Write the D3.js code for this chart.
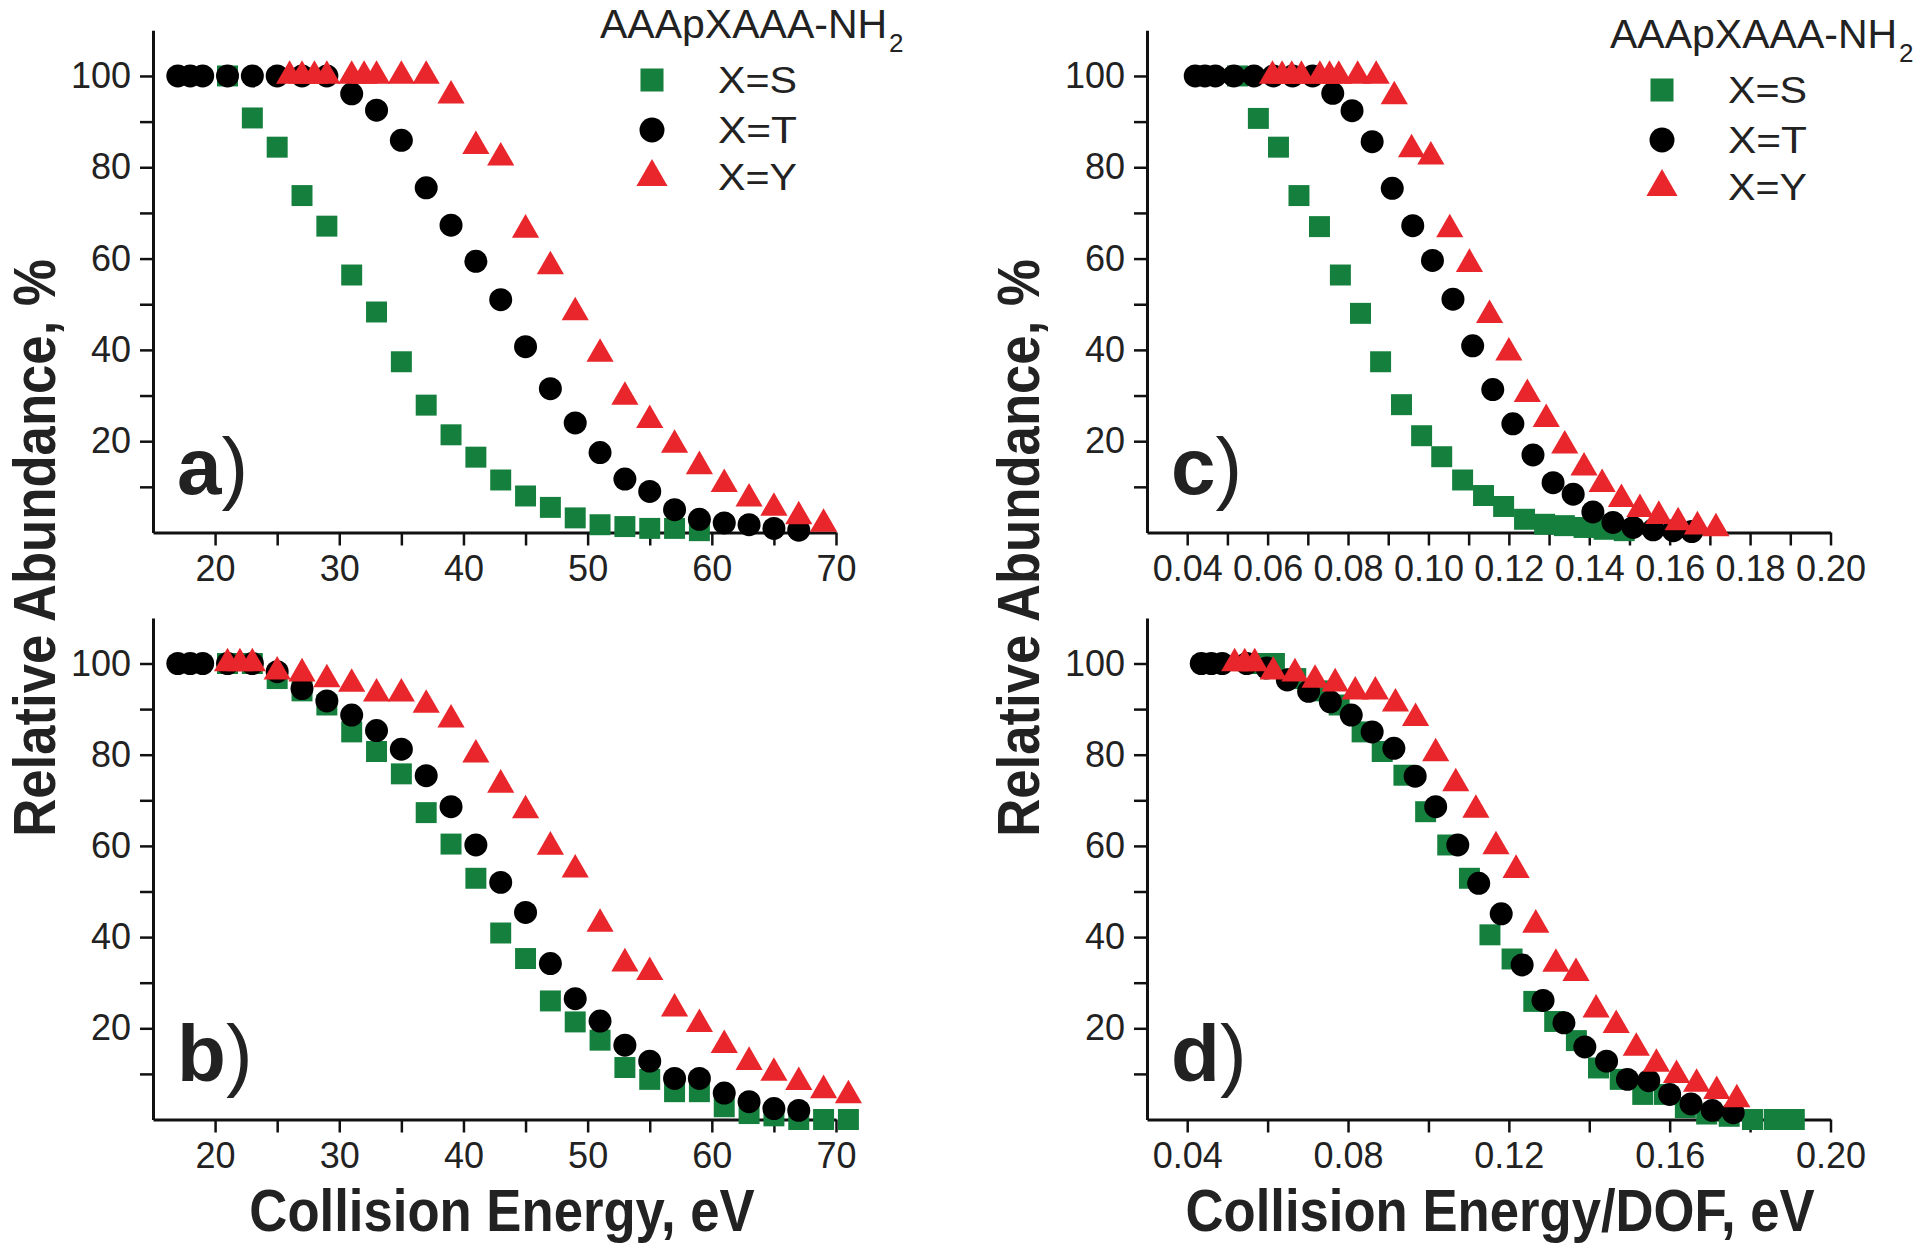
<!DOCTYPE html>
<html><head><meta charset="utf-8">
<script src="https://cdn.jsdelivr.net/npm/d3@7"></script>
<style>
body{margin:0;background:#fff}
svg{display:block}
text{font-family:"Liberation Sans",Arial,Helvetica,sans-serif}
</style>
</head><body>
<svg id="chart" width="1920" height="1246"></svg>
<script>
// ---------- DATA ----------
const seriesNames = ["X=S", "X=T", "X=Y"];
const legendTitle = "AAApXAAA-NH";
const legendSub = "2";
const panelLabels = ["a", "b", "c", "d"];
const xTitleEnergy = "Collision Energy, eV";
const xTitleDof = "Collision Energy/DOF, eV";
const yTitle = "Relative Abundance, %";

const energyTicks = [20, 25, 30, 35, 40, 45, 50, 55, 60, 65, 70];
const energyLabels = [20, 30, 40, 50, 60, 70];
const dofTicksC = [0.04, 0.05, 0.06, 0.07, 0.08, 0.09, 0.10, 0.11, 0.12, 0.13, 0.14, 0.15, 0.16, 0.17, 0.18, 0.19, 0.20];
const dofLabelsC = ["0.04", "0.06", "0.08", "0.10", "0.12", "0.14", "0.16", "0.18", "0.20"];
const dofTicksD = [0.04, 0.06, 0.08, 0.10, 0.12, 0.14, 0.16, 0.18, 0.20];
const dofLabelsD = ["0.04", "0.08", "0.12", "0.16", "0.20"];
const yTicks = [10, 20, 30, 40, 50, 60, 70, 80, 90, 100];
const yLabels = [20, 40, 60, 80, 100];

// panel a
const aSx = [21, 23, 25, 27, 29, 31, 33, 35, 37, 39, 41, 43, 45, 47, 49, 51, 53, 55, 57, 59];
const aSy = [100, 90.8, 84.4, 73.8, 67.1, 56.4, 48.3, 37.4, 27.9, 21.4, 16.5, 11.5, 8.0, 5.5, 3.2, 1.7, 1.3, 0.9, 0.9, 0.4];
const aTx = [17, 18, 19, 21, 23, 25, 27, 29, 31, 33, 35, 37, 39, 41, 43, 45, 47, 49, 51, 53, 55, 57, 59, 61, 63, 65, 67];
const aTy = [100, 100, 100, 100, 100, 100, 100, 100, 96.1, 92.5, 85.9, 75.5, 67.3, 59.4, 51.0, 40.7, 31.5, 24.0, 17.5, 11.7, 9.0, 5.0, 2.9, 2.1, 1.7, 0.9, 0.5];
const aYx = [26, 27, 28, 29, 31, 32, 33, 35, 37, 39, 41, 43, 45, 47, 49, 51, 53, 55, 57, 59, 61, 63, 65, 67, 69];
const aYy = [100, 100, 100, 100, 100, 100, 100, 100, 100, 95.7, 84.6, 82.1, 66.3, 58.3, 48.2, 39.1, 29.7, 24.6, 19.2, 14.5, 10.6, 7.4, 5.4, 3.5, 1.9];

// panel b
const bSx = [21, 23, 25, 27, 29, 31, 33, 35, 37, 39, 41, 43, 45, 47, 49, 51, 53, 55, 57, 59, 61, 63, 65, 67, 69, 71];
const bSy = [100, 100, 96.7, 94.0, 90.9, 85.0, 80.7, 75.8, 67.3, 60.4, 52.9, 40.9, 35.3, 26.0, 21.4, 17.4, 11.4, 8.8, 6.1, 6.1, 2.8, 1.3, 0.8, 0, 0, 0];
const bTx = [17, 18, 19, 21, 23, 25, 27, 29, 31, 33, 35, 37, 39, 41, 43, 45, 47, 49, 51, 53, 55, 57, 59, 61, 63, 65, 67];
const bTy = [100, 100, 100, 100, 100, 98.2, 94.5, 91.8, 88.7, 85.3, 81.2, 75.4, 68.6, 60.2, 52.0, 45.4, 34.2, 26.5, 21.6, 16.3, 12.8, 9.0, 9.0, 5.8, 3.9, 2.4, 2.0];
const bYx = [21, 22, 23, 25, 27, 29, 31, 33, 35, 37, 39, 41, 43, 45, 47, 49, 51, 53, 55, 57, 59, 61, 63, 65, 67, 69, 71];
const bYy = [100, 100, 100, 98.2, 97.8, 96.5, 95.5, 93.4, 93.4, 90.9, 87.7, 80.0, 73.4, 67.8, 59.8, 54.8, 42.9, 34.2, 32.3, 24.3, 20.9, 16.3, 12.6, 10.2, 8.2, 6.4, 5.3];

// panel c
const cSx = [0.0525, 0.0577, 0.0627, 0.0678, 0.0729, 0.0781, 0.0831, 0.0881, 0.0933, 0.0983, 0.1033, 0.1085, 0.1137, 0.1187, 0.1239, 0.1289, 0.1338, 0.1387, 0.1437, 0.1487];
const cSy = [100, 90.7, 84.4, 73.8, 67.0, 56.4, 48.0, 37.4, 28.0, 21.2, 16.6, 11.5, 8.1, 5.7, 2.9, 1.8, 1.5, 1.1, 0.7, 0.4];
const cTx = [0.0420, 0.0444, 0.0470, 0.0516, 0.0566, 0.0614, 0.0662, 0.0712, 0.0762, 0.0810, 0.0860, 0.0910, 0.0961, 0.1010, 0.1061, 0.1110, 0.1160, 0.1210, 0.1260, 0.1310, 0.1360, 0.1409, 0.1459, 0.1509, 0.1559, 0.1609, 0.1655];
const cTy = [100, 100, 100, 100, 100, 100, 100, 100, 96.2, 92.4, 85.6, 75.4, 67.2, 59.6, 51.1, 40.9, 31.3, 23.8, 17.0, 10.9, 8.4, 4.5, 2.2, 1.1, 0.6, 0.4, 0.2];
const cYx = [0.0612, 0.0636, 0.0660, 0.0684, 0.0730, 0.0754, 0.0777, 0.0824, 0.0870, 0.0915, 0.0958, 0.1006, 0.1053, 0.1102, 0.1152, 0.1200, 0.1246, 0.1293, 0.1339, 0.1387, 0.1432, 0.1480, 0.1526, 0.1573, 0.1621, 0.1669, 0.1715];
const cYy = [100, 100, 100, 100, 100, 100, 100, 100, 100, 95.5, 83.9, 82.3, 66.4, 58.8, 47.6, 39.4, 30.3, 24.8, 19.0, 14.2, 10.6, 7.3, 5.1, 3.6, 2.2, 1.3, 0.9];

// panel d
const dSx = [0.0565, 0.0617, 0.0670, 0.0724, 0.0778, 0.0835, 0.0885, 0.0939, 0.0993, 0.1048, 0.1102, 0.1153, 0.1208, 0.1262, 0.1314, 0.1368, 0.1423, 0.1477, 0.1533, 0.1587, 0.1639, 0.1692, 0.1748, 0.1806, 0.1860, 0.1910];
const dSy = [100, 100, 96.7, 94.0, 90.9, 85.0, 80.7, 75.5, 67.5, 60.2, 52.9, 40.5, 35.2, 25.9, 21.5, 17.3, 11.3, 8.8, 5.5, 5.5, 2.6, 1.2, 0.7, 0, 0, 0];
const dTx = [0.0435, 0.0460, 0.0487, 0.0548, 0.0598, 0.0649, 0.0702, 0.0756, 0.0808, 0.0860, 0.0914, 0.0967, 0.1018, 0.1073, 0.1125, 0.1181, 0.1233, 0.1285, 0.1337, 0.1389, 0.1443, 0.1495, 0.1548, 0.1600, 0.1653, 0.1706, 0.1758];
const dTy = [100, 100, 100, 100, 99.0, 96.4, 93.9, 91.6, 88.7, 85.0, 81.4, 75.3, 68.6, 60.2, 51.8, 45.1, 33.9, 26.1, 21.2, 15.9, 12.8, 8.8, 8.5, 5.5, 3.4, 2.0, 1.5];
const dYx = [0.0518, 0.0543, 0.0568, 0.0614, 0.0668, 0.0718, 0.0768, 0.0818, 0.0868, 0.0918, 0.0968, 0.1018, 0.1068, 0.1118, 0.1168, 0.1218, 0.1267, 0.1317, 0.1367, 0.1417, 0.1467, 0.1517, 0.1567, 0.1617, 0.1667, 0.1717, 0.1767];
const dYy = [100, 100, 100, 98.2, 97.8, 96.4, 95.6, 93.8, 93.8, 91.2, 88.0, 80.3, 73.7, 67.9, 59.9, 54.7, 42.7, 34.1, 32.1, 24.1, 20.7, 15.7, 12.2, 9.7, 7.8, 6.2, 4.4];

// ---------- STYLE / LAYOUT ----------
const colors = {S: "#15803d", T: "#000000", Y: "#e8262b"};
const symbols = {S: d3.symbolSquare, T: d3.symbolCircle, Y: d3.symbolTriangle};
const markSize = {S: 440, T: 415, Y: 320};
const legendSize = {S: 530, T: 490, Y: 420};

const svg = d3.select("#chart");
const tickFont = 36;

const panels = [
  {label: "a", xd: [15, 70], xr: [153, 836], yr: [532.5, 30.3], type: "E",
   data: {S: [aSx, aSy], T: [aTx, aTy], Y: [aYx, aYy]}, legend: {x: 600, y: 0}},
  {label: "b", xd: [15, 70], xr: [153, 836], yr: [1119.5, 617.9], type: "E",
   data: {S: [bSx, bSy], T: [bTx, bTy], Y: [bYx, bYy]}},
  {label: "c", xd: [0.03, 0.20], xr: [1147, 1830.5], yr: [532.5, 30.3], type: "C",
   data: {S: [cSx, cSy], T: [cTx, cTy], Y: [cYx, cYy]}, legend: {x: 1610, y: 10}},
  {label: "d", xd: [0.03, 0.20], xr: [1147, 1830.5], yr: [1119.5, 617.9], type: "D",
   data: {S: [dSx, dSy], T: [dTx, dTy], Y: [dYx, dYy]}}
];

panels.forEach(p => {
  const x = d3.scaleLinear().domain(p.xd).range(p.xr);
  const y = d3.scaleLinear().domain([0, 110]).range(p.yr);
  const g = svg.append("g");

  let xAxis;
  if (p.type === "E") {
    xAxis = d3.axisBottom(x).tickValues(energyTicks)
      .tickFormat(d => energyLabels.includes(d) ? String(d) : "");
  } else if (p.type === "C") {
    xAxis = d3.axisBottom(x).tickValues(dofTicksC)
      .tickFormat(d => { const s = d.toFixed(2); return dofLabelsC.includes(s) ? s : ""; });
  } else {
    xAxis = d3.axisBottom(x).tickValues(dofTicksD)
      .tickFormat(d => { const s = d.toFixed(2); return dofLabelsD.includes(s) ? s : ""; });
  }
  xAxis.tickSize(13).tickSizeOuter(0).tickPadding(10);
  const gx = g.append("g").attr("transform", `translate(0,${p.yr[0]})`).call(xAxis);

  const yAxis = d3.axisLeft(y).tickValues(yTicks)
    .tickFormat(d => yLabels.includes(d) ? String(d) : "")
    .tickSize(13).tickSizeOuter(0).tickPadding(9);
  const gy = g.append("g").attr("transform", `translate(${p.xr[0]},0)`).call(yAxis);

  [gx, gy].forEach(ax => {
    ax.select(".domain").attr("stroke", "#111").attr("stroke-width", 3);
    ax.selectAll(".tick line").attr("stroke", "#111").attr("stroke-width", 2.5);
    ax.selectAll(".tick text").attr("font-size", tickFont).attr("fill", "#222")
      .attr("font-family", "'Liberation Sans', Arial, sans-serif");
  });

  // points: S first, then T, then Y on top
  ["S", "T", "Y"].forEach(k => {
    const [xs, ys] = p.data[k];
    const pts = xs.map((v, i) => ({x: v, y: ys[i]}));
    g.append("g").selectAll("path").data(pts).join("path")
      .attr("d", d3.symbol().type(symbols[k]).size(markSize[k]))
      .attr("transform", d => `translate(${x(d.x)},${y(d.y)})`)
      .attr("fill", colors[k]);
  });

  // panel label
  const lab = g.append("text")
    .attr("x", p.xr[0] + 24).attr("y", p.yr[0] - 39)
    .attr("font-size", 80).attr("fill", "#222");
  lab.append("tspan").attr("font-weight", "bold").text(p.label);
  lab.append("tspan").attr("font-weight", "normal").text(")");

  // legend
  if (p.legend) {
    const L = p.legend;
    const t = g.append("text").attr("x", L.x).attr("y", L.y + 38)
      .attr("font-size", 41).attr("fill", "#222");
    t.append("tspan").text(legendTitle);
    t.append("tspan").attr("font-size", 26).attr("dx", 2).attr("dy", 14).text(legendSub);
    const keys = ["S", "T", "Y"];
    const rowY = [80, 130, 177];
    keys.forEach((k, i) => {
      g.append("path")
        .attr("d", d3.symbol().type(symbols[k]).size(legendSize[k]))
        .attr("transform", `translate(${L.x + 52},${L.y + rowY[i]})`)
        .attr("fill", colors[k]);
      g.append("text").attr("x", L.x + 118).attr("y", L.y + rowY[i] + 13)
        .attr("font-size", 37).attr("fill", "#222")
        .attr("textLength", 79).attr("lengthAdjust", "spacingAndGlyphs")
        .text(seriesNames[i]);
    });
  }
});

// axis titles (bold, horizontally condensed)
function boldTitle(txt, x, y, rot) {
  svg.append("text")
    .attr("transform", `translate(${x},${y})` + (rot ? " rotate(-90)" : "") + " scale(0.878,1)")
    .attr("text-anchor", "middle")
    .attr("font-size", 60).attr("font-weight", "bold").attr("fill", "#222")
    .text(txt);
}
boldTitle(yTitle, 55, 548, true);
boldTitle(yTitle, 1039, 548, true);
boldTitle(xTitleEnergy, 502, 1231, false);
boldTitle(xTitleDof, 1500, 1231, false);
</script>
</body></html>
